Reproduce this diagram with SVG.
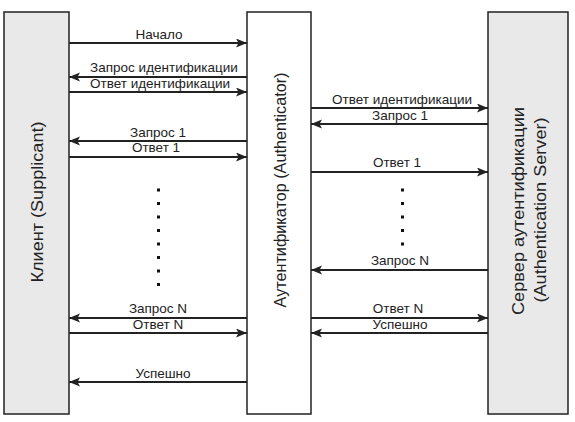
<svg xmlns="http://www.w3.org/2000/svg" width="575" height="422" viewBox="0 0 575 422">
<style>
.box{stroke:#222;stroke-width:1.5}
.gray{fill:#e9e9e9}
.white{fill:#fff}
.big{font-family:"Liberation Sans",Arial,sans-serif;font-size:17px;fill:#222;text-anchor:middle}
.lbl{font-family:"Liberation Sans",Arial,sans-serif;font-size:13.5px;fill:#222;text-anchor:middle}
.arr{stroke:#222;stroke-width:2;fill:none}
.r{marker-end:url(#ah)}
.dot{fill:#111}
</style>
<defs>
<marker id="ah" markerUnits="userSpaceOnUse" markerWidth="12" markerHeight="10" refX="11" refY="4.5" orient="auto">
<path d="M0,0 L11,4.5 L0,9 L2.5,4.5 z" fill="#222"/>
</marker>
</defs>
<rect width="575" height="422" fill="#fff"/>
<g id="client">
<rect class="box gray" x="4" y="12" width="65" height="402"/>
<text class="big" transform="translate(43,202) rotate(-90)" textLength="161" lengthAdjust="spacingAndGlyphs">Клиент (Supplicant)</text>
</g>
<g id="authenticator">
<rect class="box white" x="247" y="12" width="64" height="402"/>
<text class="big" transform="translate(286,190) rotate(-90)" textLength="235" lengthAdjust="spacingAndGlyphs">Аутентификатор (Authenticator)</text>
</g>
<g id="server">
<rect class="box gray" x="488" y="12" width="80" height="402"/>
<text class="big" transform="translate(524,211) rotate(-90)" textLength="208" lengthAdjust="spacingAndGlyphs">Сервер аутентификации</text>
<text class="big" transform="translate(546,210) rotate(-90)" textLength="185" lengthAdjust="spacingAndGlyphs">(Authentication Server)</text>
</g>
<g id="connectors">
<line class="arr r" x1="69" y1="43" x2="247" y2="43"/>
<line class="arr r" x1="247" y1="77" x2="69" y2="77"/>
<line class="arr r" x1="69" y1="92" x2="247" y2="92"/>
<line class="arr r" x1="247" y1="141" x2="69" y2="141"/>
<line class="arr r" x1="69" y1="157" x2="247" y2="157"/>
<line class="arr r" x1="247" y1="318" x2="69" y2="318"/>
<line class="arr r" x1="69" y1="333" x2="247" y2="333"/>
<line class="arr r" x1="247" y1="382" x2="69" y2="382"/>
<line class="arr r" x1="311" y1="108" x2="488" y2="108"/>
<line class="arr r" x1="488" y1="124" x2="311" y2="124"/>
<line class="arr r" x1="311" y1="172" x2="488" y2="172"/>
<line class="arr r" x1="488" y1="270" x2="311" y2="270"/>
<line class="arr r" x1="311" y1="318" x2="488" y2="318"/>
<line class="arr r" x1="488" y1="333" x2="311" y2="333"/>
</g>
<g id="labels">
<text class="lbl" x="159" y="39">Начало</text>
<text class="lbl" x="164" y="72">Запрос идентификации</text>
<text class="lbl" x="160" y="88">Ответ идентификации</text>
<text class="lbl" x="158" y="137">Запрос 1</text>
<text class="lbl" x="156" y="152">Ответ 1</text>
<text class="lbl" x="158" y="313">Запрос N</text>
<text class="lbl" x="158" y="329">Ответ N</text>
<text class="lbl" x="163" y="378">Успешно</text>
<text class="lbl" x="402" y="104">Ответ идентификации</text>
<text class="lbl" x="400" y="120">Запрос 1</text>
<text class="lbl" x="397" y="167">Ответ 1</text>
<text class="lbl" x="400" y="265">Запрос N</text>
<text class="lbl" x="398" y="313">Ответ N</text>
<text class="lbl" x="400" y="329">Успешно</text>
</g>
<g id="dots">
<rect class="dot" x="157" y="188.5" width="3" height="3"/>
<rect class="dot" x="157" y="202" width="3" height="3"/>
<rect class="dot" x="157" y="215.5" width="3" height="3"/>
<rect class="dot" x="157" y="229" width="3" height="3"/>
<rect class="dot" x="157" y="242.5" width="3" height="3"/>
<rect class="dot" x="157" y="256" width="3" height="3"/>
<rect class="dot" x="157" y="269.5" width="3" height="3"/>
<rect class="dot" x="157" y="283" width="3" height="3"/>
<rect class="dot" x="401" y="188.5" width="3" height="3"/>
<rect class="dot" x="401" y="202" width="3" height="3"/>
<rect class="dot" x="401" y="215.5" width="3" height="3"/>
<rect class="dot" x="401" y="229" width="3" height="3"/>
<rect class="dot" x="401" y="242.5" width="3" height="3"/>
</g>
</svg>
